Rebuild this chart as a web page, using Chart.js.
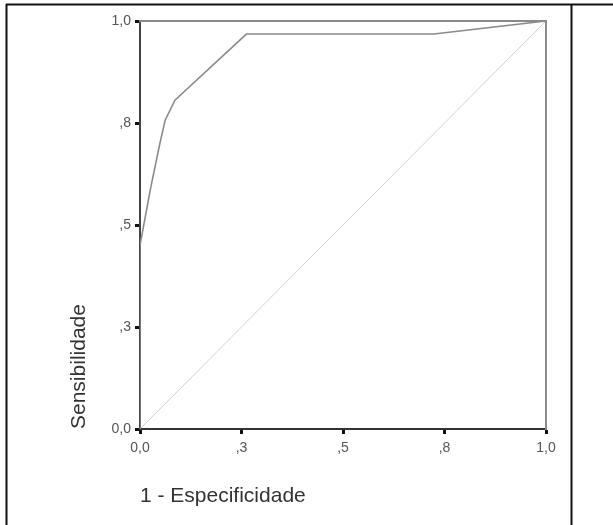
<!DOCTYPE html>
<html>
<head>
<meta charset="utf-8">
<script src="https://cdn.jsdelivr.net/npm/chart.js@4/dist/chart.umd.min.js"></script>
<style>
  html, body { margin: 0; padding: 0; background: #fff; }
  #roc { display: block; }
</style>
</head>
<body>
<canvas id="roc" width="613" height="525"></canvas>
<script>
// --- data
const fpr = [0, 0, 0.026, 0.049, 0.062, 0.086, 0.262, 0.724, 1];
const tpr = [0, 0.45, 0.59, 0.70, 0.757, 0.806, 0.968, 0.968, 1];
const refX = [0, 1];
const refY = [0, 1];
const tickValues = [0, 0.25, 0.5, 0.75, 1];
const tickLabels = ["0,0", ",3", ",5", ",8", "1,0"];
const xTitle = "1 - Especificidade";
const yTitle = "Sensibilidade";

function pts(xs, ys) { return xs.map((x, i) => ({ x, y: ys[i] })); }
function tickText(v) {
  const i = tickValues.findIndex(t => Math.abs(t - v) < 1e-6);
  return i < 0 ? "" : tickLabels[i];
}

// outer frame of the figure panel
const framePlugin = {
  id: "frame",
  afterDraw(chart) {
    const c = chart.ctx;
    c.save();
    c.strokeStyle = "#111";
    c.lineWidth = 2;
    c.beginPath();
    c.moveTo(6, 4.5); c.lineTo(613, 4.5);
    c.moveTo(6.5, 4); c.lineTo(6.5, 525);
    c.moveTo(571.5, 4); c.lineTo(571.5, 525);
    c.stroke();
    c.restore();
  }
};

const axisFont = { family: "'Liberation Sans', Arial, sans-serif", size: 14 };
const titleFont = { family: "'Liberation Sans', Arial, sans-serif", size: 21 };

new Chart(document.getElementById("roc"), {
  type: "scatter",
  data: {
    datasets: [
      {
        label: "ref",
        data: pts(refX, refY),
        showLine: true,
        borderColor: "#d2d2d2",
        borderWidth: 1,
        pointRadius: 0,
        order: 2
      },
      {
        label: "ROC",
        data: pts(fpr, tpr),
        showLine: true,
        borderColor: "#8a8a8a",
        borderWidth: 1.6,
        pointRadius: 0,
        order: 1
      }
    ]
  },
  options: {
    responsive: false,
    animation: false,
    events: [],
    layout: { padding: { left: 0, top: 21, right: 67, bottom: 0 } },
    plugins: { legend: { display: false }, tooltip: { enabled: false } },
    scales: {
      x: {
        type: "linear", position: "bottom", min: 0, max: 1,
        afterBuildTicks: s => { s.ticks = tickValues.map(v => ({ value: v })); },
        afterFit: s => { s.height = 96; },
        ticks: { callback: tickText, color: "#555", font: axisFont, padding: 6, maxRotation: 0 },
        grid: { drawOnChartArea: false, drawTicks: true, tickLength: 5, tickWidth: 3, tickColor: "#111" },
        border: { color: "#333", width: 2 },
        title: { display: true, text: xTitle, align: "start", color: "#333", font: titleFont, padding: { top: 0, bottom: 16 } }
      },
      y: {
        type: "linear", position: "left", min: 0, max: 1,
        afterBuildTicks: s => { s.ticks = tickValues.map(v => ({ value: v })); },
        afterFit: s => { s.width = 140; },
        ticks: { callback: tickText, color: "#555", font: axisFont, padding: 4 },
        grid: { drawOnChartArea: false, drawTicks: true, tickLength: 5, tickWidth: 3, tickColor: "#111" },
        border: { color: "#444", width: 2 },
        title: { display: true, text: yTitle, align: "start", color: "#333", font: titleFont, padding: { top: 67, bottom: 0 } }
      },
      x2: {
        type: "linear", position: "top", min: 0, max: 1,
        afterFit: s => { s.height = 0; },
        ticks: { display: false },
        grid: { display: false },
        border: { color: "#8a8a8a", width: 2 }
      },
      y2: {
        type: "linear", position: "right", min: 0, max: 1,
        afterFit: s => { s.width = 0; },
        ticks: { display: false },
        grid: { display: false },
        border: { color: "#8a8a8a", width: 2 }
      }
    }
  },
  plugins: [framePlugin]
});
</script>
</body>
</html>
